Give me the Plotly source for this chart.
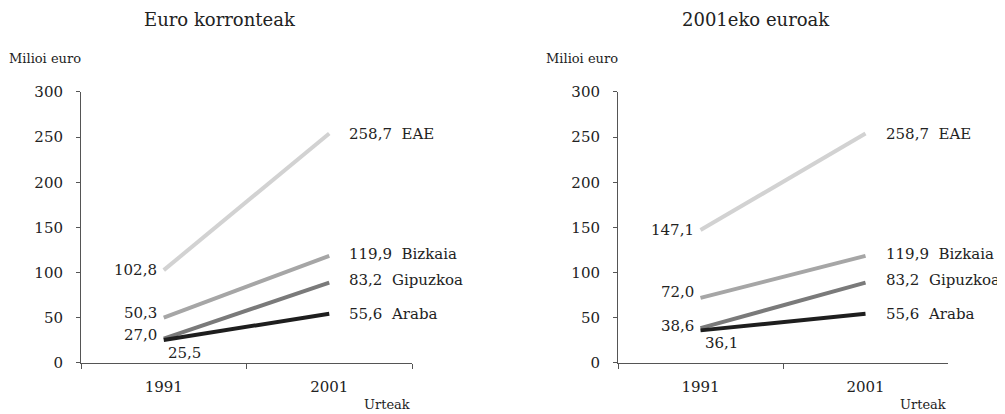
import plotly.graph_objects as go

W, H = 1005, 414

years = ["1991", "2001"]
regions = ["EAE", "Bizkaia", "Gipuzkoa", "Araba"]
colors = ["#d2d2d2", "#a6a6a6", "#7a7a7a", "#1e1e1e"]

# Euro korronteak (current euros)
current_1991 = [102.8, 50.3, 27.0, 25.5]
current_1991_txt = ["102,8", "50,3", "27,0", "25,5"]
# 2001eko euroak (constant 2001 euros)
constant_1991 = [147.1, 72.0, 38.6, 36.1]
constant_1991_txt = ["147,1", "72,0", "38,6", "36,1"]
# 2001 values as drawn by the lines, and their printed labels
drawn_2001 = [254.0, 118.5, 89.0, 54.5]
labels_2001 = ["258,7", "119,9", "83,2", "55,6"]

panel_titles = ["Euro korronteak", "2001eko euroak"]
yticks = [0, 50, 100, 150, 200, 250, 300]

FONT = "DejaVu Serif"
AX = "#555555"

# empirical mapping from target screen pixels to paper fractions
def px_x(p):
    return (p - 8) / W

def px_y(p):
    return 1 - (p - 15.7) / (0.961 * H)

# panel geometry (target screen pixels)
panels = [(81, 412), (618, 948)]
y_top, y_bot = 91, 363.3

fig = go.Figure()

start_shift = [[0, 5, 4, -13], [0, 6, 2, -13]]
end_shift = [0, 2, 3, 0]

for i, (x0, x1) in enumerate(panels):
    xa = "x" if i == 0 else "x2"
    ya = "y" if i == 0 else "y2"
    start = current_1991 if i == 0 else constant_1991
    start_txt = current_1991_txt if i == 0 else constant_1991_txt
    for r in range(4):
        fig.add_trace(go.Scatter(
            x=years, y=[start[r], drawn_2001[r]], mode="lines",
            line=dict(color=colors[r], width=4),
            xaxis=xa, yaxis=ya, showlegend=False, hoverinfo="skip"))
        if r == 3:
            fig.add_annotation(x=0, y=start[r], xref=xa, yref=ya,
                               text=start_txt[r], showarrow=False,
                               xanchor="left", yanchor="middle",
                               xshift=2, yshift=start_shift[i][r],
                               font=dict(family=FONT, size=15, color="#222"))
        else:
            fig.add_annotation(x=0, y=start[r], xref=xa, yref=ya,
                               text=start_txt[r], showarrow=False,
                               xanchor="right", yanchor="middle",
                               xshift=-5, yshift=start_shift[i][r],
                               font=dict(family=FONT, size=15, color="#222"))
        fig.add_annotation(x=1, y=drawn_2001[r], xref=xa, yref=ya,
                           text=labels_2001[r] + "\u00a0\u00a0" + regions[r],
                           showarrow=False, xanchor="left", yanchor="middle",
                           xshift=18, yshift=end_shift[r],
                           font=dict(family=FONT, size=15, color="#222"))

    dom_x = [px_x(x0), px_x(x1)]
    dom_y = [px_y(y_bot), px_y(y_top)]
    xaxis = dict(domain=dom_x, type="category", categoryorder="array",
                 categoryarray=years, range=[-0.5, 1.5], tickson="boundaries",
                 showline=True, linecolor=AX, linewidth=1, ticks="outside",
                 ticklen=5, tickcolor=AX, showgrid=False, zeroline=False,
                 anchor=ya, fixedrange=True, ticklabelstandoff=10,
                 tickfont=dict(family=FONT, size=15, color="#222"))
    yaxis = dict(domain=dom_y, range=[0, 300], tickvals=yticks,
                 showline=True, linecolor=AX, linewidth=1, ticks="outside",
                 ticklen=4, tickcolor=AX, showgrid=False, zeroline=False,
                 anchor=xa, fixedrange=True, ticklabelstandoff=10,
                 tickfont=dict(family=FONT, size=15, color="#222"))
    if i == 0:
        fig.update_layout(xaxis=xaxis, yaxis=yaxis)
    else:
        fig.update_layout(xaxis2=xaxis, yaxis2=yaxis)

    cx = [220, 756][i]
    fig.add_annotation(x=px_x(cx), y=px_y(18), xref="paper", yref="paper",
                       text=panel_titles[i], showarrow=False,
                       xanchor="center", yanchor="middle",
                       font=dict(family=FONT, size=18, color="#222"))
    lx = [7, 544][i]
    fig.add_annotation(x=px_x(lx), y=px_y(57), xref="paper", yref="paper",
                       text="Milioi euro", showarrow=False,
                       xanchor="left", yanchor="middle",
                       font=dict(family=FONT, size=13, color="#222"))
    fig.add_annotation(x=px_x(x1), y=px_y(405), xref="paper", yref="paper",
                       text="Urteak", showarrow=False,
                       xanchor="right", yanchor="middle",
                       font=dict(family=FONT, size=13, color="#222"))

fig.update_layout(width=W, height=H, margin=dict(l=0, r=0, t=0, b=0),
                  paper_bgcolor="white", plot_bgcolor="white",
                  showlegend=False)

fig.write_html("out.html")
